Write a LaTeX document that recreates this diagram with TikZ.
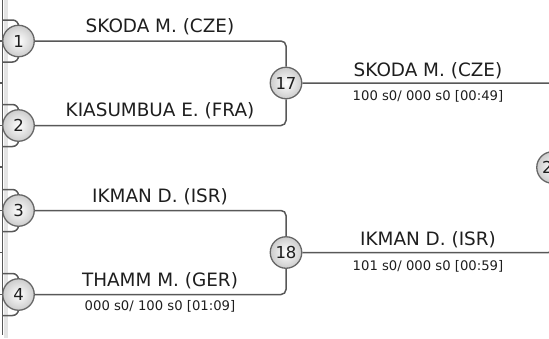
\documentclass[tikz,border=0pt]{standalone}
\usepackage{fontspec}
\setmainfont{DejaVu Sans}
\usetikzlibrary{backgrounds,calc}
\definecolor{lc}{HTML}{585858}
\definecolor{cc}{HTML}{666666}
\definecolor{tc}{HTML}{1E1E1E}
\definecolor{band}{HTML}{E4E4E4}
\begin{document}
\begin{tikzpicture}[x=1pt,y=-1pt,
  ln/.style={draw=lc, line width=1.5pt},
  seed/.style={circle, draw=cc, line width=1.3pt, inner color=white, outer color=gray!40,
    minimum size=31.5pt, inner sep=0pt, font=\fontsize{16.5}{16.5}\selectfont, text=tc},
  big/.style={anchor=base, inner sep=0pt, font=\fontsize{18.4}{20}\selectfont, text=tc},
  small/.style={anchor=base, inner sep=0pt, font=\fontsize{13.2}{15}\selectfont, text=tc}]
\useasboundingbox (0,0) rectangle (549,338);
% seed circles
\node[seed] (n1) at (18.5,41) {1};
\node[seed] (n2) at (18.5,125.5) {2};
\node[seed] (n3) at (18.5,210.5) {3};
\node[seed] (n4) at (18.5,294.5) {4};
\node[seed] (n17) at (286,83) {17};
\node[seed] (n18) at (286,252.5) {18};
\node[seed] (n25) at (552.5,167.5) {25};
% left edge
\coordinate (e0) at (2.5,0);
\coordinate (e1) at (2.5,335);
\begin{pgfonlayer}{background}
  \fill[band] (3.5,0) rectangle (8,338);
  \draw[ln] (e0) -- (e1);
  \foreach \yy in {41,83,125.5,167,210.5,252.5,294.5}{
    \draw[ln] (0,\yy) -- (2.5,\yy);
  }
  \foreach \n in {n1,n2,n3,n4}{
    \draw[ln, rounded corners=6] (e0 |- {$(\n.center)+(0,-21)$}) -| (\n.center);
    \draw[ln, rounded corners=6] (e0 |- {$(\n.center)+(0,21)$}) -| (\n.center);
  }
  \draw[ln, rounded corners=5] (n1.east) -| (n17.north);
  \draw[ln, rounded corners=5] (n2.east) -| (n17.south);
  \draw[ln, rounded corners=5] (n3.east) -| (n18.north);
  \draw[ln, rounded corners=5] (n4.east) -| (n18.south);
  \draw[ln, rounded corners=4] (n17.east) -| (n25.north);
  \draw[ln, rounded corners=4] (n18.east) -| (n25.south);
\end{pgfonlayer}
% labels
\node[big] (t1) at (160,32.3) {SKODA M. (CZE)};
\node[big] (t2) at (160,116.7) {KIASUMBUA E. (FRA)};
\node[big] (t3) at (160,202.3) {IKMAN D. (ISR)};
\node[big] (t4) at (160,286.7) {THAMM M. (GER)};
\node[small] (s4) at (160,310) {000 s0/ 100 s0 [01:09]};
\node[big] (t17) at (428,76) {SKODA M. (CZE)};
\node[small] (s17) at (428,100.5) {100 s0/ 000 s0 [00:49]};
\node[big] (t18) at (428,245) {IKMAN D. (ISR)};
\node[small] (s18) at (428,270) {101 s0/ 000 s0 [00:59]};
\end{tikzpicture}
\end{document}
